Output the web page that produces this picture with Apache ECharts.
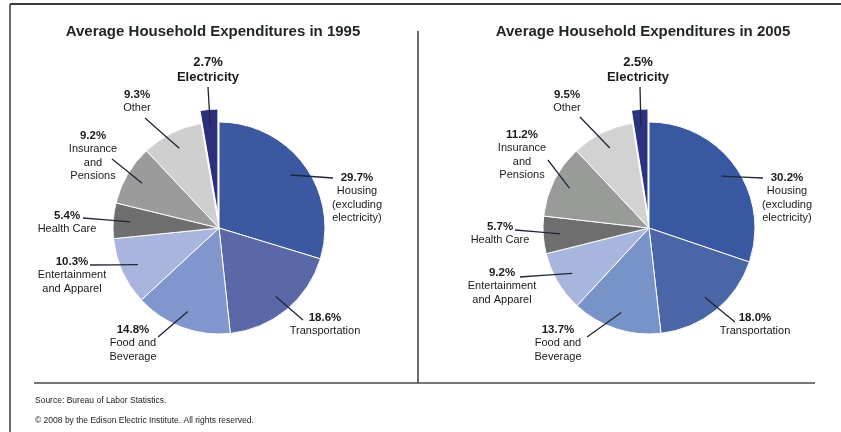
<!DOCTYPE html>
<html>
<head>
<meta charset="utf-8">
<script src="https://cdn.jsdelivr.net/npm/echarts@6/dist/echarts.min.js"></script>
<style>
  html, body { margin: 0; padding: 0; background: #ffffff; }
  #chart { width: 841px; height: 432px; }
</style>
</head>
<body>
<div id="chart"></div>
<script>
// Spending categories, clockwise from twelve o'clock
const categories = [
  'Housing\n(excluding\nelectricity)',
  'Transportation',
  'Food and\nBeverage',
  'Entertainment\nand Apparel',
  'Health Care',
  'Insurance\nand\nPensions',
  'Other',
  'Electricity'
];
// Share of household spending, percent
const values1995 = [29.7, 18.6, 14.8, 10.3, 5.4, 9.2, 9.3, 2.7];
const values2005 = [30.2, 18.0, 13.7, 9.2, 5.7, 11.2, 9.5, 2.5];

const titles = ['Average Household Expenditures in 1995', 'Average Household Expenditures in 2005'];
const sourceNote = 'Source: Bureau of Labor Statistics.';
const copyrightNote = '\u00A9 2008 by the Edison Electric Institute. All rights reserved.';

const colors1995 = ['#3b58a0', '#5a68a8', '#8196cc', '#aab5dd', '#6e6e6e', '#9b9b9b', '#cfcfcf', '#2b2f7c'];
const colors2005 = ['#3958a2', '#4b66a6', '#7893c8', '#a8b5dc', '#6e6e6e', '#989b98', '#d2d2d2', '#2c3382'];

// Pie geometry
const centers = [[219, 228], [649, 228]];
const pieRadius = 106;
const explodeOffset = 13;
const highlighted = 'Electricity';

// Label placement relative to each pie centre:
// [label x, label top, leader end x, leader end y]
const labelSpots = [
  [[138, -57, 114, -50], [106, 83, 84, 92], [-86, 95, -61, 109], [-147, 27, -129, 37],
   [-152, -19, -136, -10], [-126, -99, -107, -69], [-82, -140, -74, -110], [-11, -173, -11, -141]],
  [[138, -57, 114, -50], [106, 83, 86, 94], [-91, 95, -62, 109], [-147, 38, -129, 49],
   [-149, -8, -134, 2], [-127, -100, -101, -68], [-82, -140, -69, -111], [-11, -173, -9, -141]]
];

const FONT = '"Liberation Sans", Arial, sans-serif';
const TRANSPARENT = 'rgba(0,0,0,0)';
const HIDDEN_ITEM = { color: TRANSPARENT, borderColor: TRANSPARENT, borderWidth: 0 };

function labelText(name, value) {
  const pct = value.toFixed(1) + '%';
  if (name === highlighted) {
    return '{big|' + pct + '}\n{big|' + name + '}';
  }
  return '{p|' + pct + '}\n' + name.split('\n').map(function (s) { return '{n|' + s + '}'; }).join('\n');
}

// Mid angle of a slice, radians clockwise from twelve o'clock
function midAngle(values, idx) {
  const total = values.reduce(function (a, b) { return a + b; }, 0);
  let cum = 0;
  for (let k = 0; k < idx; k++) cum += values[k];
  return (cum + values[idx] / 2) / total * Math.PI * 2;
}

function explodeShift(values) {
  const t = midAngle(values, categories.indexOf(highlighted));
  return [explodeOffset * Math.sin(t), -explodeOffset * Math.cos(t)];
}

function leaderStart(values, idx, center, frac) {
  const t = midAngle(values, idx);
  let r = pieRadius * frac;
  if (categories[idx] === highlighted) r += explodeOffset;
  return [center[0] + r * Math.sin(t), center[1] - r * Math.cos(t)];
}

function basePie(center, z) {
  return {
    type: 'pie',
    z: z,
    center: center,
    radius: pieRadius,
    startAngle: 90,
    clockwise: true,
    animation: false,
    silent: true,
    avoidLabelOverlap: false
  };
}

// Slices that stay in place
function sliceSeries(values, colors, s) {
  return Object.assign(basePie(centers[s], 3), {
    label: { show: false },
    labelLine: { show: false },
    data: categories.map(function (name, i) {
      return {
        name: name,
        value: values[i],
        itemStyle: name === highlighted ? HIDDEN_ITEM
          : { color: colors[i], borderColor: '#ffffff', borderWidth: 1 }
      };
    })
  });
}

// Same pie shifted outward along the pulled-out slice, showing only that slice
function explodedSeries(values, colors, s) {
  const shift = explodeShift(values);
  return Object.assign(basePie([centers[s][0] + shift[0], centers[s][1] + shift[1]], 2), {
    label: { show: false },
    labelLine: { show: false },
    data: categories.map(function (name, i) {
      return {
        name: name,
        value: values[i],
        itemStyle: name === highlighted
          ? { color: colors[i], borderColor: '#ffffff', borderWidth: 1 }
          : HIDDEN_ITEM
      };
    })
  });
}

// Labels and leader lines, drawn above the slices
function labelSeries(values, s) {
  return Object.assign(basePie(centers[s], 5), {
    label: {
      show: true,
      position: 'outside',
      color: '#1a1a1a',
      fontFamily: FONT,
      formatter: function (p) { return labelText(p.name, p.value); },
      rich: {
        p: { fontSize: 11.5, fontWeight: 'bold', lineHeight: 13.5, fontFamily: FONT, color: '#1a1a1a', align: 'center' },
        n: { fontSize: 11, lineHeight: 13.5, fontFamily: FONT, color: '#1a1a1a', align: 'center' },
        big: { fontSize: 13, fontWeight: 'bold', lineHeight: 15, fontFamily: FONT, color: '#1a1a1a', align: 'center' }
      }
    },
    labelLine: { show: true, lineStyle: { color: '#22253a', width: 1.3 } },
    labelLayout: function (params) {
      const i = params.dataIndex;
      const spot = labelSpots[s][i];
      const c = centers[s];
      const start = leaderStart(values, i, c, 0.84);
      const end = [c[0] + spot[2], c[1] + spot[3]];
      return {
        x: c[0] + spot[0],
        y: c[1] + spot[1],
        align: 'center',
        verticalAlign: 'top',
        labelLinePoints: [start, [(start[0] + end[0]) / 2, (start[1] + end[1]) / 2], end]
      };
    },
    data: categories.map(function (name, i) {
      return { name: name, value: values[i], itemStyle: HIDDEN_ITEM };
    })
  });
}

const chart = echarts.init(document.getElementById('chart'), null, { renderer: 'canvas' });

chart.setOption({
  backgroundColor: '#ffffff',
  title: [
    { text: titles[0], left: 208, top: 19, textAlign: 'center',
      textStyle: { fontFamily: FONT, fontSize: 15, fontWeight: 'bold', color: '#1f2424' } },
    { text: titles[1], left: 638, top: 19, textAlign: 'center',
      textStyle: { fontFamily: FONT, fontSize: 15, fontWeight: 'bold', color: '#1f2424' } }
  ],
  graphic: [
    // frame and dividers
    { type: 'line', silent: true, shape: { x1: 10, y1: 4, x2: 841, y2: 4 }, style: { stroke: '#3a3a3a', lineWidth: 2 } },
    { type: 'line', silent: true, shape: { x1: 10, y1: 4, x2: 10, y2: 432 }, style: { stroke: '#3a3a3a', lineWidth: 1.5 } },
    { type: 'line', silent: true, shape: { x1: 418, y1: 31, x2: 418, y2: 383 }, style: { stroke: '#3a3a3a', lineWidth: 1.5 } },
    { type: 'line', silent: true, shape: { x1: 34, y1: 383, x2: 815, y2: 383 }, style: { stroke: '#4a4a4a', lineWidth: 1.5 } },
    // footnotes
    { type: 'text', silent: true, left: 35, top: 396,
      style: { text: sourceNote, font: '8.5px ' + FONT, fill: '#222222' } },
    { type: 'text', silent: true, left: 35, top: 416,
      style: { text: copyrightNote, font: '8.5px ' + FONT, fill: '#222222' } }
  ],
  series: [
    explodedSeries(values1995, colors1995, 0),
    sliceSeries(values1995, colors1995, 0),
    labelSeries(values1995, 0),
    explodedSeries(values2005, colors2005, 1),
    sliceSeries(values2005, colors2005, 1),
    labelSeries(values2005, 1)
  ]
});
</script>
</body>
</html>
